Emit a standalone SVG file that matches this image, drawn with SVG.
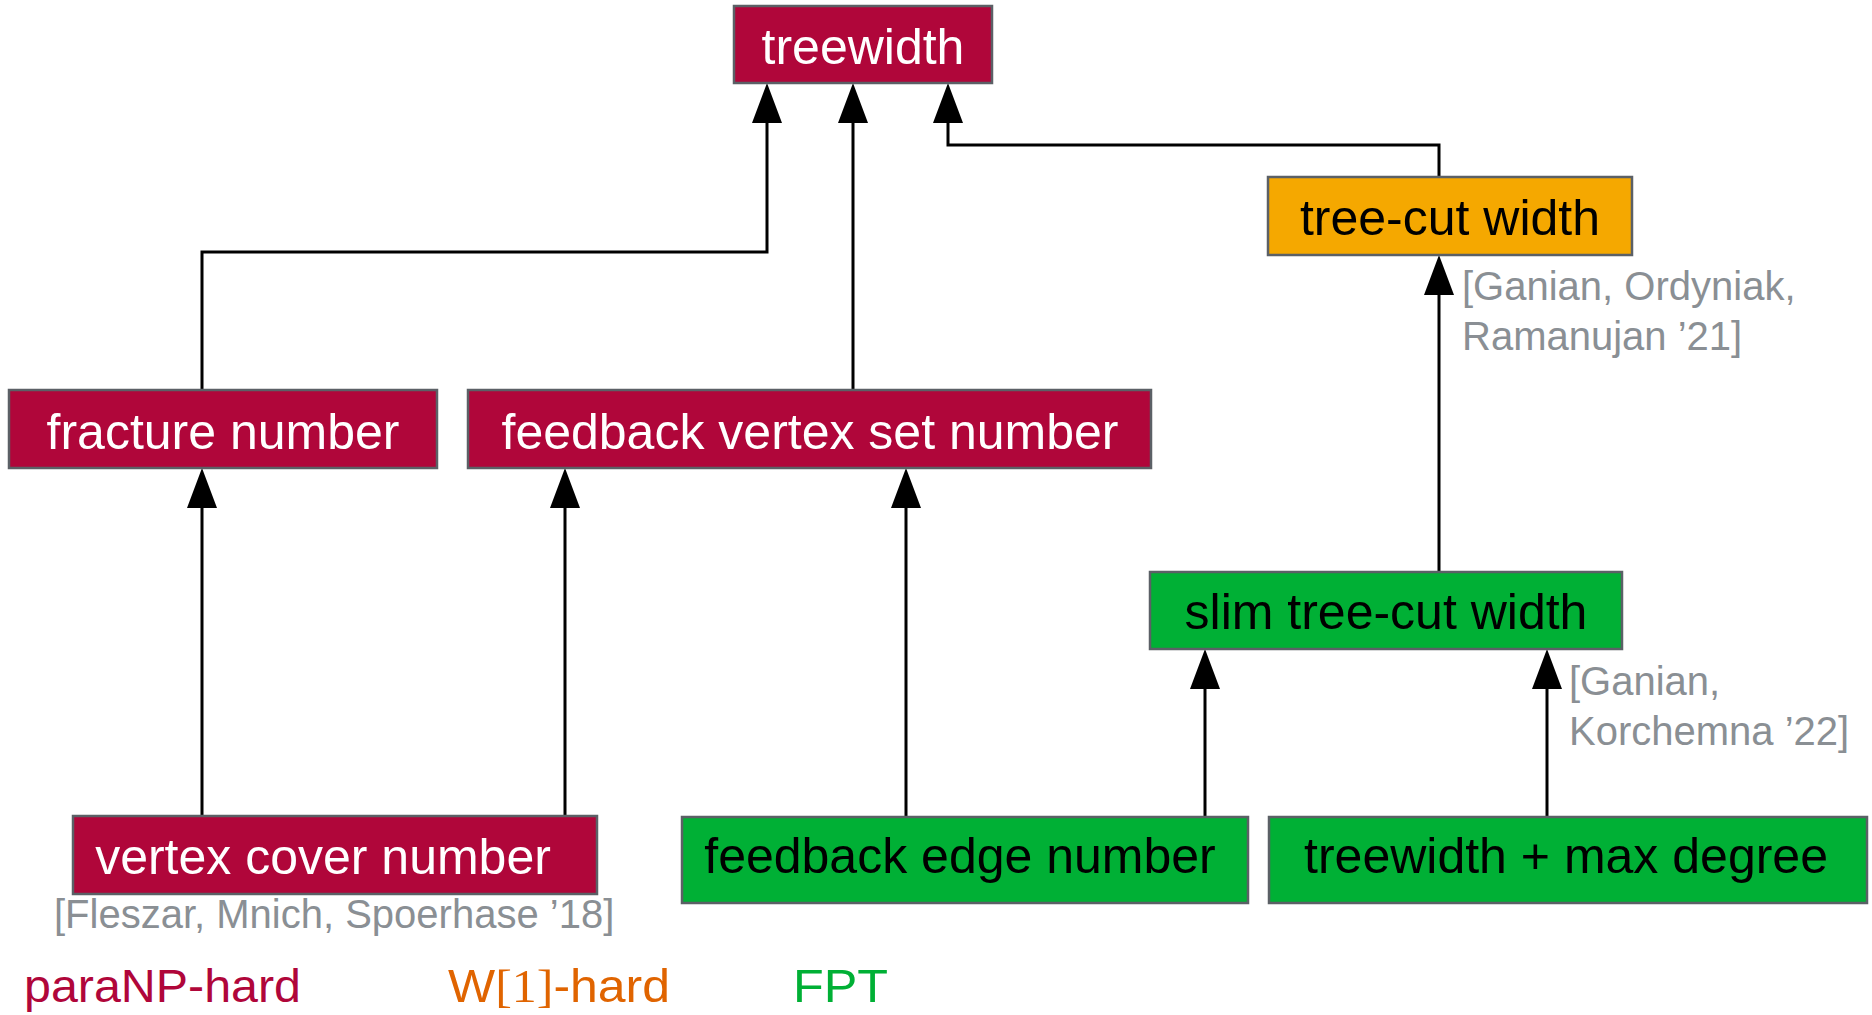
<svg xmlns="http://www.w3.org/2000/svg" width="1872" height="1015" viewBox="0 0 1872 1015">
<style>
.box{stroke:#5b6066;stroke-width:2.5}
.hard{fill:#b0063a}
.fpt{fill:#00b035}
.w1{fill:#f5a800}
.lbl{font-family:"Liberation Sans",Arial,sans-serif;font-size:50px;text-anchor:middle}
.wt{fill:#ffffff}
.bk{fill:#000000}
.cite{font-family:"Liberation Sans",Arial,sans-serif;font-size:40px;fill:#8a8f94}
.leg{font-family:"Liberation Sans",Arial,sans-serif;font-size:47px}
.edge{fill:none;stroke:#000;stroke-width:3}
</style>
<defs>
<marker id="arr" viewBox="0 0 40 30" refX="10" refY="15" markerWidth="40" markerHeight="30" markerUnits="userSpaceOnUse" orient="auto">
<path d="M0,0 L40,15 L0,30 z" fill="#000"/>
</marker>
</defs>
<g id="connectors">
<path class="edge" d="M202,390 V252 H767 V113" marker-end="url(#arr)"/>
<path class="edge" d="M853,390 V113" marker-end="url(#arr)"/>
<path class="edge" d="M1439,177 V145 H948 V113" marker-end="url(#arr)"/>
<path class="edge" d="M1439,572 V285" marker-end="url(#arr)"/>
<path class="edge" d="M202,816 V498" marker-end="url(#arr)"/>
<path class="edge" d="M565,816 V498" marker-end="url(#arr)"/>
<path class="edge" d="M906,817 V498" marker-end="url(#arr)"/>
<path class="edge" d="M1205,817 V679" marker-end="url(#arr)"/>
<path class="edge" d="M1547,817 V679" marker-end="url(#arr)"/>
</g>
<g id="treewidth">
<rect class="box hard" x="734" y="6" width="258" height="77"/>
<text class="lbl wt" x="863" y="64">treewidth</text>
</g>
<g id="tree-cut-width">
<rect class="box w1" x="1268" y="177" width="364" height="78"/>
<text class="lbl bk" x="1450" y="235">tree-cut width</text>
</g>
<g id="fracture-number">
<rect class="box hard" x="9" y="390" width="428" height="78"/>
<text class="lbl wt" x="223" y="449">fracture number</text>
</g>
<g id="fvs-number">
<rect class="box hard" x="468" y="390" width="683" height="78"/>
<text class="lbl wt" x="810" y="449">feedback vertex set number</text>
</g>
<g id="slim-tree-cut-width">
<rect class="box fpt" x="1150" y="572" width="472" height="77"/>
<text class="lbl bk" x="1386" y="629">slim tree-cut width</text>
</g>
<g id="vertex-cover-number">
<rect class="box hard" x="73" y="816" width="524" height="78"/>
<text class="lbl wt" x="323" y="874">vertex cover number</text>
</g>
<g id="feedback-edge-number">
<rect class="box fpt" x="682" y="817" width="566" height="86"/>
<text class="lbl bk" x="960" y="873">feedback edge number</text>
</g>
<g id="treewidth-max-degree">
<rect class="box fpt" x="1269" y="817" width="598" height="86"/>
<text class="lbl bk" x="1566" y="873">treewidth + max degree</text>
</g>
<g id="citations">
<text class="cite" x="1462" y="300">[Ganian, Ordyniak,</text>
<text class="cite" x="1462" y="350">Ramanujan ’21]</text>
<text class="cite" x="1569" y="695">[Ganian,</text>
<text class="cite" x="1569" y="745">Korchemna ’22]</text>
<text class="cite" x="54" y="928">[Fleszar, Mnich, Spoerhase ’18]</text>
</g>
<g id="legend">
<text class="leg" x="24" y="1002" fill="#b0063a" textLength="277" lengthAdjust="spacingAndGlyphs">paraNP-hard</text>
<text class="leg" x="448" y="1002" fill="#e06400" textLength="222" lengthAdjust="spacingAndGlyphs">W<tspan font-family="'Liberation Serif',serif">[1]</tspan>-hard</text>
<text class="leg" x="793" y="1002" fill="#00b035" textLength="95" lengthAdjust="spacingAndGlyphs">FPT</text>
</g>
</svg>
